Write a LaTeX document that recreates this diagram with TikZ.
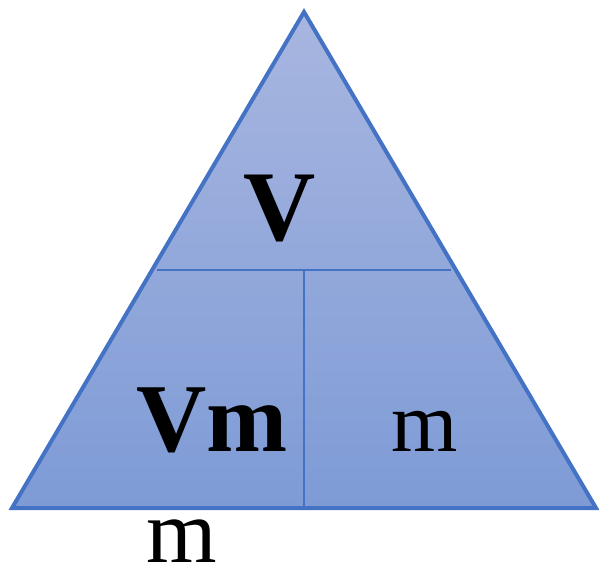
\documentclass[tikz,border=0pt]{standalone}
\usepackage{fontspec}
\setmainfont{Liberation Serif}
\usepackage{xcolor}
\usepackage{tikz}
\usetikzlibrary{positioning}
\definecolor{triline}{RGB}{68,114,196}
\definecolor{tritop}{RGB}{168,182,224}
\definecolor{tribot}{RGB}{126,155,214}

\begin{document}
\begin{tikzpicture}[x=0.75pt, y=-0.75pt, every node/.style={inner sep=0pt, anchor=base}]
            \useasboundingbox (0,0) rectangle (599,569);
            \coordinate (apex) at (304,12);
            \coordinate (left) at (12,508);
            \coordinate (right) at (596,508);
            \shade[top color=tritop, bottom color=tribot] (apex) -- (left) -- (right) -- cycle;
            \draw[triline, line width=3pt, line join=miter] (apex) -- (left) -- (right) -- cycle;
            \coordinate (hl) at (157,270);
            \coordinate (hr) at (451,270);
            \coordinate (vt) at (304,270);
            \coordinate (vb) at (304,508);
            \draw[triline, line width=2pt] (hl) -- (hr);
            \draw[triline, line width=2pt] (vt) -- (vb);
            \node[font=\fontsize{75}{80}\selectfont\bfseries] (vol) at (280,240) {V};
            \node[font=\fontsize{73}{80}\selectfont\bfseries] (molvol) at (212,451) {Vm};
            \node[font=\fontsize{64}{70}\selectfont] (mass) at (425,451) {m};
            \node[font=\fontsize{68}{70}\selectfont] (under) at (182,562) {m};
        \end{tikzpicture}
\end{document}
